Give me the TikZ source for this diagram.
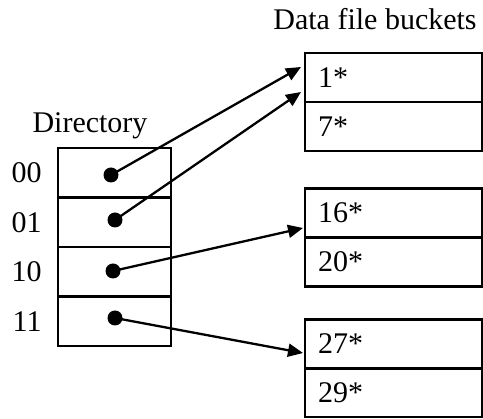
\documentclass[tikz,border=0pt]{standalone}
\usepackage{fontspec}
\setmainfont{Liberation Serif}
\usetikzlibrary{arrows.meta,positioning}
\newcommand{\bigtxt}{\fontsize{30}{36}\selectfont}
\begin{document}
\begin{tikzpicture}[x=1pt,y=-1pt,
  every node/.style={font=\bigtxt,inner sep=0pt},
  dircell/.style={draw,line width=2.5pt,minimum width=113pt,minimum height=49.5pt},
  bucketcell/.style={draw,line width=2.5pt,minimum height=49pt,text width=151pt,inner xsep=13pt,align=left},
  dotmark/.style={circle,fill,minimum size=15pt,inner sep=0pt},
  ptr/.style={line width=2.3pt,-{Triangle[length=15pt,width=13pt]}}]
\useasboundingbox (0,0) rectangle (483,419);
% directory
\node[dircell] (c0) at (114.5,173) {};
\node[dircell] (c1) at (114.5,222.5) {};
\node[dircell] (c2) at (114.5,272) {};
\node[dircell] (c3) at (114.5,321.5) {};
\node[left=15pt of c0] (l0) {00};
\node[left=15pt of c1] (l1) {01};
\node[left=15pt of c2] (l2) {10};
\node[left=15pt of c3] (l3) {11};
\node[anchor=base] (dirlabel) at (90,133) {Directory};
\node[anchor=base] (buclabel) at (375,30) {Data file buckets};
% dots
\node[dotmark] (d0) at (111,175) {};
\node[dotmark] (d1) at (115,220) {};
\node[dotmark] (d2) at (113,271) {};
\node[dotmark] (d3) at (115,318) {};
% buckets
\node[bucketcell] (b1a) at (393.5,77.5) {1*};
\node[bucketcell] (b1b) at (393.5,126.5) {7*};
\node[bucketcell] (b2a) at (393.5,213) {16*};
\node[bucketcell] (b2b) at (393.5,262) {20*};
\node[bucketcell] (b3a) at (393.5,344) {27*};
\node[bucketcell] (b3b) at (393.5,392.5) {29*};
% arrow tips
\coordinate (t0) at (301,67);
\coordinate (t1) at (301,92);
\coordinate (t2) at (303,228);
\coordinate (t3) at (303,353);
\draw[ptr] (d0.center) -- (t0);
\draw[ptr] (d1.center) -- (t1);
\draw[ptr] (d2.center) -- (t2);
\draw[ptr] (d3.center) -- (t3);
\end{tikzpicture}
\end{document}
